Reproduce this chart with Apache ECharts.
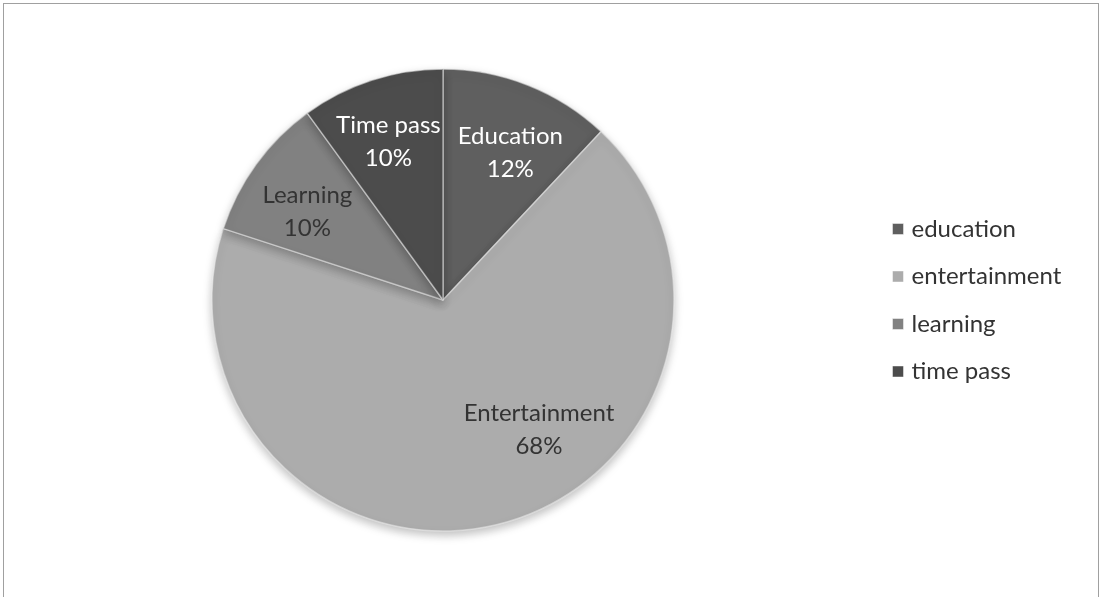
<!DOCTYPE html>
<html>
<head>
<meta charset="utf-8">
<script src="https://cdn.jsdelivr.net/npm/echarts@6/dist/echarts.min.js"></script>
<style>
  html, body { margin: 0; padding: 0; background: #fff; }
  #frame { position: absolute; left: 3px; top: 3px; width: 1096px; height: 620px; border: 1px solid #a0a0a0; box-sizing: border-box; }
  #chart { position: absolute; left: 0; top: 0; width: 1104px; height: 597px; }
</style>
</head>
<body>
<div id="frame"></div>
<div id="chart"></div>
<script>
// Usage purpose shares (percent)
const legendNames = ['education', 'entertainment', 'learning', 'time pass'];
const sliceLabels = ['Education', 'Entertainment', 'Learning', 'Time pass'];
const shares = [12, 68, 10, 10];
const sliceColors = ['#5f5f5f', '#acacac', '#818181', '#4c4c4c'];
const labelColors = ['#ffffff', '#333333', '#333333', '#ffffff'];

const CX = 443, CY = 300, R = 231;
const LABEL_R = 0.70 * R;
// best-fit angular nudge (degrees) for the slice labels
const labelAngleShift = [3, -22, -3, -1];

const total = shares.reduce((a, b) => a + b, 0);
const midAngles = [];
let acc = 0;
shares.forEach(v => { midAngles.push((acc + v / 2) / total * 360); acc += v; });

const data = legendNames.map((n, i) => ({
  name: n,
  value: shares[i],
  itemStyle: { color: sliceColors[i] },
  label: {
    color: labelColors[i],
    formatter: sliceLabels[i] + '\n' + shares[i] + '%'
  }
}));

const chart = echarts.init(document.getElementById('chart'), null, { renderer: 'canvas' });
chart.setOption({
  animation: false,
  backgroundColor: 'transparent',
  legend: {
    orient: 'vertical',
    left: 887,
    top: 212,
    itemWidth: 11,
    itemHeight: 11,
    itemGap: 23.5,
    icon: 'rect',
    data: legendNames.map((n, i) => ({
      name: n,
      itemStyle: { color: sliceColors[i], borderColor: 'rgba(255,255,255,0.45)', borderWidth: 1 }
    })),
    textStyle: { fontFamily: 'Lato', fontSize: 24, color: '#333333', padding: [0, 0, 0, 3] }
  },
  series: [{
    type: 'pie',
    center: [CX, CY],
    radius: R,
    startAngle: 90,
    clockwise: true,
    avoidLabelOverlap: false,
    legendHoverLink: false,
    itemStyle: {
      borderColor: 'rgba(235,235,235,0.55)',
      borderWidth: 1.5,
      shadowBlur: 10,
      shadowOffsetY: 4,
      shadowColor: 'rgba(0,0,0,0.25)'
    },
    label: {
      show: true,
      position: 'inside',
      fontFamily: 'Lato',
      fontSize: 24,
      lineHeight: 33,
      align: 'center'
    },
    labelLine: { show: false },
    labelLayout: function (p) {
      const a = (midAngles[p.dataIndex] + labelAngleShift[p.dataIndex]) * Math.PI / 180;
      const r = p.dataIndex === 3 ? LABEL_R + 6 : LABEL_R;
      return { x: CX + r * Math.sin(a), y: CY - r * Math.cos(a) };
    },
    emphasis: { disabled: true },
    data: data
  }]
});
</script>
</body>
</html>
